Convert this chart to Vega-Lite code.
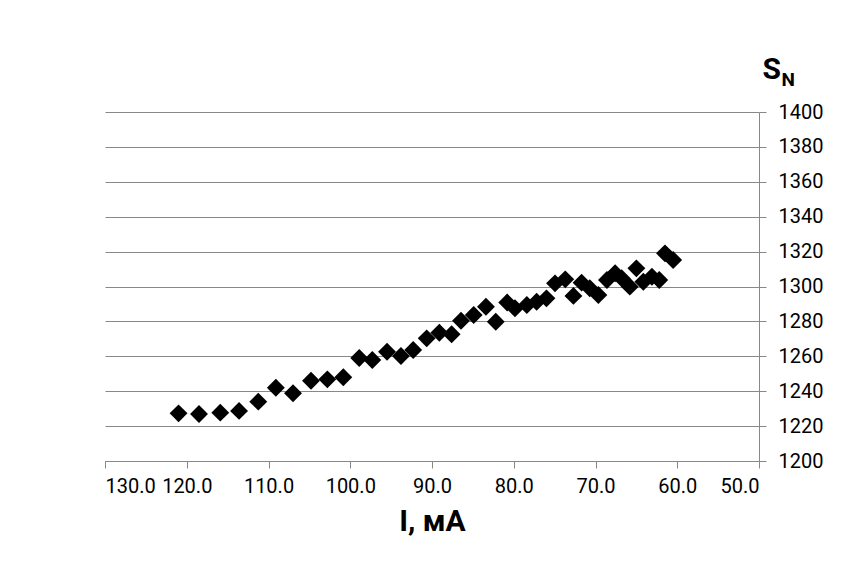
{
  "$schema": "https://vega.github.io/schema/vega-lite/v6.json",
  "width": 654,
  "height": 349,
  "autosize": {"type": "none"},
  "padding": {"left": 105, "top": 112, "right": 85, "bottom": 108},
  "background": "white",
  "config": {"view": {"stroke": null}, "font": "Liberation Sans Narrow, Roboto, sans-serif"},
  "title": {"text": "N", "anchor": "end", "frame": "group", "fontSize": 19, "fontWeight": "bold", "color": "black", "dx": 36, "offset": -36, "font": "Liberation Sans Narrow, Roboto, sans-serif"},
  "data": {"values": [
    {"I": 121.0, "S": 1227.3}, {"I": 118.5, "S": 1226.9}, {"I": 115.9, "S": 1227.7}, {"I": 113.6, "S": 1228.7},
    {"I": 111.25, "S": 1234.0}, {"I": 109.1, "S": 1242.0}, {"I": 107.0, "S": 1238.8}, {"I": 104.8, "S": 1246.0},
    {"I": 102.8, "S": 1246.8}, {"I": 100.85, "S": 1248.0}, {"I": 98.9, "S": 1259.0}, {"I": 97.3, "S": 1257.9},
    {"I": 95.5, "S": 1262.6}, {"I": 93.8, "S": 1260.2}, {"I": 92.3, "S": 1263.6}, {"I": 90.65, "S": 1270.3},
    {"I": 89.1, "S": 1273.5}, {"I": 87.6, "S": 1272.6}, {"I": 86.45, "S": 1280.4}, {"I": 84.9, "S": 1283.7},
    {"I": 83.4, "S": 1288.4}, {"I": 82.2, "S": 1279.8}, {"I": 80.8, "S": 1290.8}, {"I": 79.85, "S": 1287.5},
    {"I": 78.4, "S": 1289.4}, {"I": 77.2, "S": 1291.3}, {"I": 76.0, "S": 1293.2}, {"I": 74.95, "S": 1301.8},
    {"I": 73.7, "S": 1304.1}, {"I": 72.7, "S": 1294.6}, {"I": 71.7, "S": 1302.2}, {"I": 70.7, "S": 1299.0},
    {"I": 69.65, "S": 1295.1}, {"I": 68.6, "S": 1303.7}, {"I": 67.6, "S": 1307.6}, {"I": 66.8, "S": 1304.7},
    {"I": 65.8, "S": 1299.9}, {"I": 65.0, "S": 1310.4}, {"I": 64.15, "S": 1302.7}, {"I": 63.1, "S": 1305.6},
    {"I": 62.2, "S": 1303.7}, {"I": 61.5, "S": 1319.0}, {"I": 60.5, "S": 1315.2}
  ]},
  "mark": {"type": "point", "shape": "diamond", "filled": true, "color": "black", "size": 320, "opacity": 1},
  "encoding": {
    "x": {
      "field": "I", "type": "quantitative",
      "scale": {"domain": [50, 130], "reverse": true, "nice": false, "zero": false},
      "axis": {
        "orient": "bottom", "values": [130, 120, 110, 100, 90, 80, 70, 60, 50], "format": ".1f",
        "grid": false, "domainColor": "#888888", "tickColor": "#888888", "tickSize": 7,
        "labelFontSize": 20, "labelColor": "black", "labelPadding": 8,
        "title": "I, мА", "titleFontSize": 30, "titleFontWeight": "bold", "titleColor": "black", "titlePadding": 10
      }
    },
    "y": {
      "field": "S", "type": "quantitative",
      "scale": {"domain": [1200, 1400], "nice": false, "zero": false},
      "axis": {
        "orient": "right", "values": [1200, 1220, 1240, 1260, 1280, 1300, 1320, 1340, 1360, 1380, 1400],
        "format": "d", "grid": true, "gridColor": "#888888", "gridOpacity": 1,
        "domainColor": "#888888", "tickColor": "#888888", "tickSize": 7,
        "labelFontSize": 20, "labelColor": "black", "labelPadding": 12,
        "title": "S", "titleAngle": 0, "titleFontSize": 30, "titleFontWeight": "bold", "titleColor": "black",
        "titleAlign": "left", "titleBaseline": "alphabetic", "titleX": 3, "titleY": -34
      }
    }
  }
}
